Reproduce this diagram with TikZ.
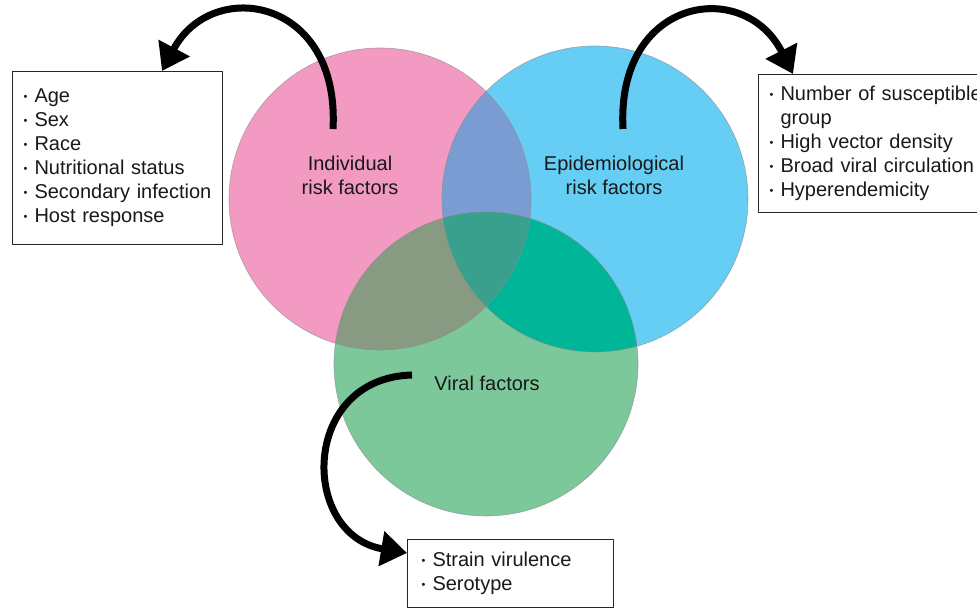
\documentclass[tikz,border=0pt]{standalone}
\usepackage{fontspec}
\setmainfont{Liberation Sans}
\usetikzlibrary{arrows.meta}
\definecolor{pinkc}{HTML}{F29AC1}
\definecolor{bluec}{HTML}{66CDF4}
\definecolor{greenc}{HTML}{7DC89B}
\definecolor{pinkblue}{HTML}{7A9CD3}
\definecolor{pinkgreen}{HTML}{889B82}
\definecolor{bluegreen}{HTML}{00B598}
\definecolor{allthree}{HTML}{38A08C}
\newcommand{\pinkpath}{(380,410) circle (151pt)}
\newcommand{\bluepath}{(595,410) circle (153pt)}
\newcommand{\greenpath}{(486,245) circle (152pt)}
\newcommand{\itm}{\makebox[11pt][l]{\fontsize{11}{11}\selectfont\raisebox{2.5pt}{•}}}
\hyphenpenalty=10000

\begin{document}
\begin{tikzpicture}[line join=round,x=1pt,y=1pt,
  every node/.style={font=\fontsize{20}{24}\selectfont,text=black!90},
  listbox/.style={draw=black!85,line width=1pt,fill=white,align=left,anchor=north west,inner xsep=11pt},
  rim/.style={draw=black!45,line width=0.6pt,opacity=0.7},
  curved/.style={line width=7pt,line cap=butt,-{Triangle[length=26pt,width=34pt]}}]
\useasboundingbox (0,0) rectangle (977,609);
\clip (0,0) rectangle (977,609);
% three circles
\fill[pinkc] \pinkpath;
\fill[bluec] \bluepath;
\fill[greenc] \greenpath;
\begin{scope}
\clip \pinkpath;
\fill[pinkblue] \bluepath;
\fill[pinkgreen] \greenpath;
\end{scope}
\begin{scope}
\clip \bluepath;
\fill[bluegreen] \greenpath;
\end{scope}
\begin{scope}
\clip \pinkpath;
\clip \bluepath;
\fill[allthree] \greenpath;
\end{scope}
\draw[rim] \pinkpath;
\draw[rim] \bluepath;
\draw[rim] \greenpath;
% labels
\node[align=center] (indiv) at (350,434) {Individual\\risk factors};
\node[align=center] (epid) at (614,434) {Epidemiological\\risk factors};
\node (viral) at (487,226) {Viral factors};
% lists
\node[listbox,text width=188pt,minimum height=173pt] (lbox) at (12,538)
  {\itm Age\\\itm Sex\\\itm Race\\\itm Nutritional status\\\itm Secondary infection\\\itm Host response};
\node[listbox,text width=222pt,minimum height=138pt] (rbox) at (758,535)
  {\itm Number of susceptible\\\hspace*{11pt}group\\\itm High vector density\\\itm Broad viral circulation\\\itm Hyperendemicity};
\node[listbox,inner xsep=14pt,text width=178pt,minimum height=68pt] (sbox) at (407,70)
  {\itm Strain virulence\\\itm Serotype};
% arrows
\coordinate (itail) at (333,480);
\coordinate (etail) at (623,480);
\coordinate (vtail) at (412,234);
\draw[curved] (itail) .. controls (340,612) and (212,632) .. ([xshift=150pt]lbox.north west);
\draw[curved] (etail) .. controls (616,612) and (744,632) .. ([xshift=35pt]rbox.north west);
\draw[curved] (vtail) .. controls (300,231) and (300,74) .. ([yshift=-14pt]sbox.north west);
\end{tikzpicture}
\end{document}
